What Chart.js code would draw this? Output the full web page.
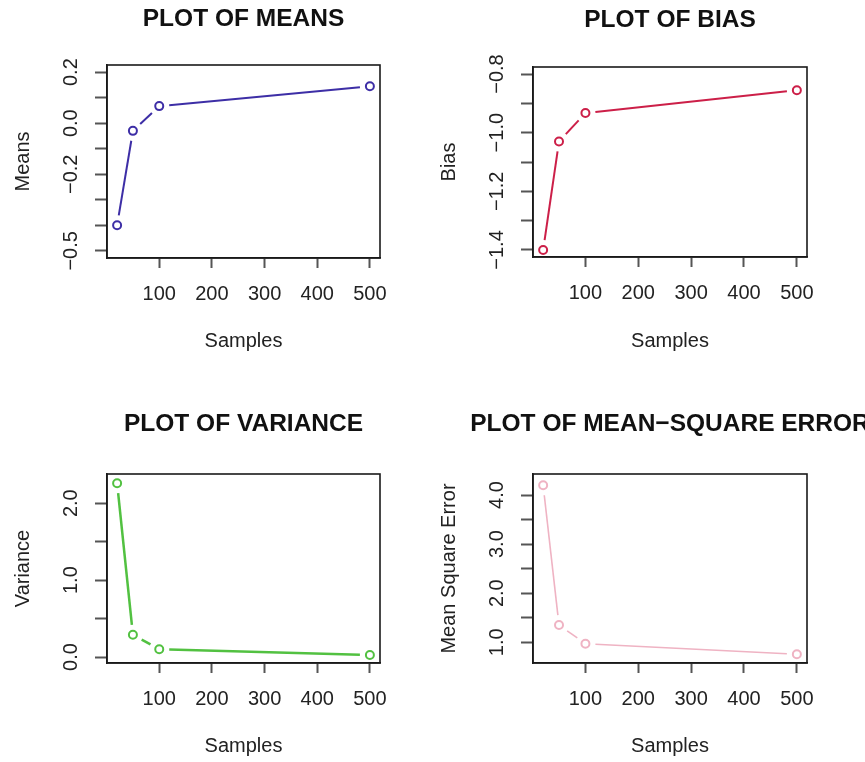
<!DOCTYPE html>
<html>
<head>
<meta charset="utf-8">
<script src="https://cdn.jsdelivr.net/npm/chart.js@4.4.1/dist/chart.umd.min.js"></script>
<style>
  html, body { margin: 0; padding: 0; background: #fff; }
  #wrap { position: relative; width: 865px; height: 762px; overflow: hidden; background: #fff; }
  canvas { position: absolute; }
</style>
</head>
<body>
<div id="wrap">
  <canvas id="pMeans" width="432" height="381" style="left:0;top:0;width:432px;height:381px"></canvas>
  <canvas id="pBias" width="433" height="381" style="left:432px;top:0;width:433px;height:381px"></canvas>
  <canvas id="pVar" width="432" height="381" style="left:0;top:381px;width:432px;height:381px"></canvas>
  <canvas id="pMse" width="433" height="381" style="left:432px;top:381px;width:433px;height:381px"></canvas>
</div>
<script>
// Simulation summary by sample size
const samples  = [20, 50, 100, 500];
const means    = [-0.40, -0.03, 0.067, 0.145];
const bias     = [-1.40, -1.03, -0.933, -0.855];
const variance = [2.26, 0.29, 0.10, 0.025];
const mse      = [4.20, 1.35, 0.97, 0.756];

// Axis ticks (marks) and the subset of them that carry a label
const xTicks = [100, 200, 300, 400, 500];
const meansTicks  = [-0.5, -0.4, -0.3, -0.2, -0.1, 0.0, 0.1, 0.2];
const meansLabels = [0.2, 0.0, -0.2, -0.5];
const biasTicks   = [-1.4, -1.3, -1.2, -1.1, -1.0, -0.9, -0.8];
const biasLabels  = [-0.8, -1.0, -1.2, -1.4];
const varTicks    = [0.0, 0.5, 1.0, 1.5, 2.0];
const varLabels   = [0.0, 1.0, 2.0];
const mseTicks    = [1.0, 1.5, 2.0, 2.5, 3.0, 3.5, 4.0];
const mseLabels   = [1.0, 2.0, 3.0, 4.0];

const FONT = '"Liberation Sans", Arial, Helvetica, sans-serif';
const fmt = v => v.toFixed(1).replace('-', '\u2212');

// Lines between successive points, stopped short of each marker (type "b" look)
const gappedLines = {
  id: 'gappedLines',
  beforeDatasetsDraw(chart) {
    const ctx = chart.ctx;
    chart.data.datasets.forEach((ds, i) => {
      const pts = chart.getDatasetMeta(i).data;
      const gap = ds.lineGap || 10;
      ctx.save();
      ctx.strokeStyle = ds.borderColor;
      ctx.lineWidth = ds.lineWidthB || 2;
      ctx.lineCap = 'butt';
      for (let k = 0; k < pts.length - 1; k++) {
        const a = pts[k], b = pts[k + 1];
        const dx = b.x - a.x, dy = b.y - a.y;
        const len = Math.hypot(dx, dy);
        if (len <= 2 * gap) continue;
        const ux = dx / len, uy = dy / len;
        ctx.beginPath();
        ctx.moveTo(a.x + ux * gap, a.y + uy * gap);
        ctx.lineTo(b.x - ux * gap, b.y - uy * gap);
        ctx.stroke();
      }
      ctx.restore();
    });
  }
};

// Plot frame, main title centred over the plot region, rotated y tick labels
const frameAndLabels = {
  id: 'frameAndLabels',
  afterDatasetsDraw(chart, args, opts) {
    const ctx = chart.ctx;
    const a = chart.chartArea;
    ctx.save();
    ctx.strokeStyle = '#1a1a1a';
    ctx.lineWidth = 1.6;
    ctx.strokeRect(a.left, a.top, a.right - a.left, a.bottom - a.top);

    ctx.fillStyle = '#111';
    ctx.font = 'bold 24.5px ' + FONT;
    ctx.textAlign = 'center';
    ctx.textBaseline = 'middle';
    ctx.fillText(opts.title, (a.left + a.right) / 2, opts.titleMid);

    const ys = chart.scales.y;
    ctx.fillStyle = '#222';
    ctx.font = '20px ' + FONT;
    (opts.labels || []).forEach(v => {
      const y = ys.getPixelForValue(v);
      ctx.save();
      ctx.translate(a.left - 36, y);
      ctx.rotate(-Math.PI / 2);
      ctx.fillText(fmt(v), 0, 0);
      ctx.restore();
    });
    ctx.restore();
  }
};

function panel(id, p) {
  const W = p.w, H = p.h;
  new Chart(document.getElementById(id), {
    type: 'line',
    data: {
      datasets: [{
        data: samples.map((s, i) => ({ x: s, y: p.values[i] })),
        showLine: false,
        borderColor: p.color,
        backgroundColor: 'rgba(0,0,0,0)',
        pointBorderColor: p.color,
        pointBackgroundColor: 'rgba(0,0,0,0)',
        pointRadius: 4,
        pointBorderWidth: 2,
        pointHoverRadius: 4,
        lineWidthB: p.lineWidth,
        lineGap: 10
      }]
    },
    options: {
      responsive: false,
      animation: false,
      events: [],
      layout: { padding: { left: 0, right: W - p.area.r, top: p.area.t, bottom: 0 } },
      plugins: {
        legend: { display: false },
        tooltip: { enabled: false },
        title: { display: false },
        frameAndLabels: { labels: p.yLabels, title: p.title, titleMid: p.titleMid }
      },
      scales: {
        x: {
          type: 'linear',
          min: 0.8,
          max: 519.2,
          afterBuildTicks: s => { s.ticks = xTicks.map(v => ({ value: v })); },
          afterFit: s => { s.height = H - p.area.b; },
          ticks: {
            autoSkip: false, maxRotation: 0, minRotation: 0,
            padding: 14, color: '#222',
            font: { family: FONT, size: 20 },
            callback: v => String(v)
          },
          grid: { display: true, drawOnChartArea: false, drawTicks: true, tickLength: 10, tickColor: '#555', tickWidth: 2 },
          border: { display: true, color: '#1a1a1a', width: 1.6 },
          title: {
            display: true, text: 'Samples', color: '#222',
            font: { family: FONT, size: 20, lineHeight: 1.2 },
            padding: { top: 0, bottom: p.xTitlePad }
          }
        },
        y: {
          type: 'linear',
          min: p.ymin,
          max: p.ymax,
          afterBuildTicks: s => { s.ticks = p.yTicks.map(v => ({ value: v })); },
          afterFit: s => { s.width = p.area.l; },
          ticks: { display: false },
          grid: { display: true, drawOnChartArea: false, drawTicks: true, tickLength: 12, tickColor: '#555', tickWidth: 2 },
          border: { display: true, color: '#1a1a1a', width: 1.6 },
          title: {
            display: true, text: p.yTitle, color: '#222',
            font: { family: FONT, size: 20, lineHeight: 1.2 },
            padding: { top: p.area.l - 84 - 12, bottom: 0 }
          }
        }
      }
    },
    plugins: [gappedLines, frameAndLabels]
  });
}

panel('pMeans', {
  w: 432, h: 381, area: { l: 107, r: 380, t: 65, b: 258 },
  title: 'PLOT OF MEANS', titleMid: 19.5,
  yTitle: 'Means', values: means, color: '#3d2ea6', lineWidth: 2,
  ymin: -0.528, ymax: 0.228, yTicks: meansTicks, yLabels: meansLabels, xTitlePad: 28
});
panel('pBias', {
  w: 433, h: 381, area: { l: 101, r: 375, t: 67, b: 257 },
  title: 'PLOT OF BIAS', titleMid: 20,
  yTitle: 'Bias', values: bias, color: '#cc1f48', lineWidth: 2,
  ymin: -1.424, ymax: -0.776, yTicks: biasTicks, yLabels: biasLabels, xTitlePad: 28
});
panel('pVar', {
  w: 432, h: 381, area: { l: 107, r: 380, t: 93, b: 282 },
  title: 'PLOT OF VARIANCE', titleMid: 43,
  yTitle: 'Variance', values: variance, color: '#52c141', lineWidth: 2.5,
  ymin: -0.078, ymax: 2.38, yTicks: varTicks, yLabels: varLabels, xTitlePad: 4
});
panel('pMse', {
  w: 433, h: 381, area: { l: 101, r: 375, t: 93, b: 282 },
  title: 'PLOT OF MEAN\u2212SQUARE ERROR', titleMid: 43,
  yTitle: 'Mean Square Error', values: mse, color: '#efb3c3', lineWidth: 1.6,
  ymin: 0.577, ymax: 4.43, yTicks: mseTicks, yLabels: mseLabels, xTitlePad: 4
});
</script>
</body>
</html>
